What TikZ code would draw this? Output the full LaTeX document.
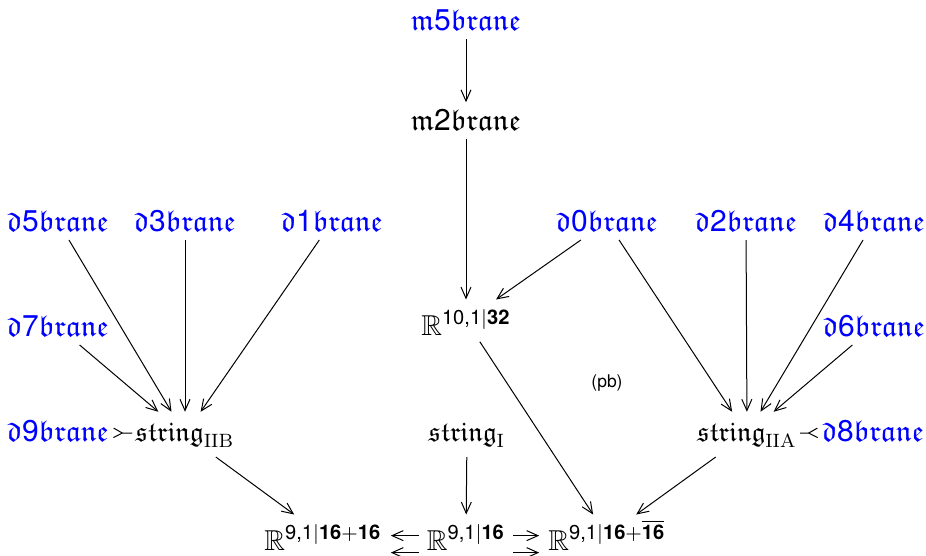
\documentclass[tikz,border=0pt]{standalone}
\usepackage{amsmath,amssymb}
\usepackage{fontspec}
\newfontfamily\hv{TeX Gyre Heros}
\usetikzlibrary{arrows.meta}
\definecolor{braneblue}{RGB}{0,0,255}
\newcommand{\sfn}[1]{\text{\hv #1}}
\newcommand{\sfb}[1]{\text{\hv\bfseries #1}}
% brane names: fraktur letters with sans digits
\newcommand{\bn}[2]{\mathfrak{#1}\sfn{#2}\mathfrak{brane}}
\tikzset{
  every node/.style={font=\fontsize{12}{14}\selectfont},
  fk/.style={anchor=base, inner xsep=2pt, inner ysep=2.4pt, text height=8.5pt, text depth=1pt},
  brane/.style={fk, text=braneblue},
  strg/.style={anchor=base, inner xsep=2pt, inner ysep=3pt, text height=8.5pt, text depth=3.2pt,
    font=\fontsize{11}{13}\selectfont},
  sup/.style={anchor=base, inner xsep=2pt, inner ysep=2.0pt, text height=12pt, text depth=0.5pt,
    font=\fontsize{11.5}{13}\selectfont},
  arr/.style={-{Straight Barb[length=4.5pt,width=4pt]}, line width=0.4pt},
  tailarr/.style={{Straight Barb[reversed,length=3.5pt,width=3.8pt]}-, line width=0.4pt,
    shorten <=-0.5pt, shorten >=-0.8pt},
  pair/.style={arr, shorten <=1pt, shorten >=1.5pt}
}
\begin{document}
\begin{tikzpicture}[x=0.4pt,y=-0.4pt]
\useasboundingbox (0,0) rectangle (926,555);
% M-theory branes
\node[brane] (m5) at (466,30) {$\bn{m}{5}$};
\node[fk] (m2) at (466,130) {$\bn{m}{2}$};
% D-branes, top row
\node[brane] (d5) at (58,231) {$\bn{d}{5}$};
\node[brane] (d3) at (185,231) {$\bn{d}{3}$};
\node[brane] (d1) at (332,231) {$\bn{d}{1}$};
\node[brane] (d0) at (607,231) {$\bn{d}{0}$};
\node[brane] (d2) at (746,231) {$\bn{d}{2}$};
\node[brane] (d4) at (874,231) {$\bn{d}{4}$};
% middle row
\node[brane] (d7) at (58,336) {$\bn{d}{7}$};
\node[sup] (R10) at (466,335) {$\mathbb{R}^{\sfn{10,1}\vert\sfb{32}}$};
\node[brane] (d6) at (874,336) {$\bn{d}{6}$};
\node[font=\hv\fontsize{7}{8}\selectfont] (pb) at (607,383) {(pb)};
% strings
\node[brane] (d9) at (58,441) {$\bn{d}{9}$};
\node[strg] (IIB) at (185,441) {$\mathfrak{string}_{\mathrm{IIB}}$};
\node[strg] (I) at (467,441) {$\mathfrak{string}_{\mathrm{I}}$};
\node[strg] (IIA) at (747,441) {$\mathfrak{string}_{\mathrm{IIA}}$};
\node[brane] (d8) at (873,441) {$\bn{d}{8}$};
% super spacetimes
\node[sup] (Rb) at (323,550) {$\mathbb{R}^{\sfn{9,1}\vert\sfb{16}+\sfb{16}}$};
\node[sup] (Rm) at (466,550) {$\mathbb{R}^{\sfn{9,1}\vert\sfb{16}}$};
\node[sup] (Ra) at (607,550) {$\mathbb{R}^{\sfn{9,1}\vert\sfb{16}+\overline{\sfb{16}}}$};
% connectors
\draw[arr] (m5) -- (m2);
\draw[arr] (m2) -- (R10);
\draw[arr] (d0) -- (R10);
\draw[arr] (R10) -- (Ra);
\draw[arr] (d5) -- (IIB);
\draw[arr] (d3) -- (IIB);
\draw[arr] (d1) -- (IIB);
\draw[arr] (d7) -- (IIB);
\draw[tailarr] (d9) -- (IIB);
\draw[arr] (d0) -- (IIA);
\draw[arr] (d2) -- (IIA);
\draw[arr] (d4) -- (IIA);
\draw[arr] (d6) -- (IIA);
\draw[tailarr] (d8) -- (IIA);
\draw[arr] (IIB) -- (Rb);
\draw[arr] (I) -- (Rm);
\draw[arr] (IIA) -- (Ra);
\draw[pair] ([yshift=0pt]Rm.west) -- ([yshift=0pt]Rb.east);
\draw[pair] ([yshift=-6.8pt]Rm.west) -- ([yshift=-6.8pt]Rb.east);
\draw[pair] ([yshift=0pt]Rm.east) -- ([yshift=0pt]Ra.west);
\draw[pair] ([yshift=-6.8pt]Rm.east) -- ([yshift=-6.8pt]Ra.west);
\end{tikzpicture}
\end{document}
